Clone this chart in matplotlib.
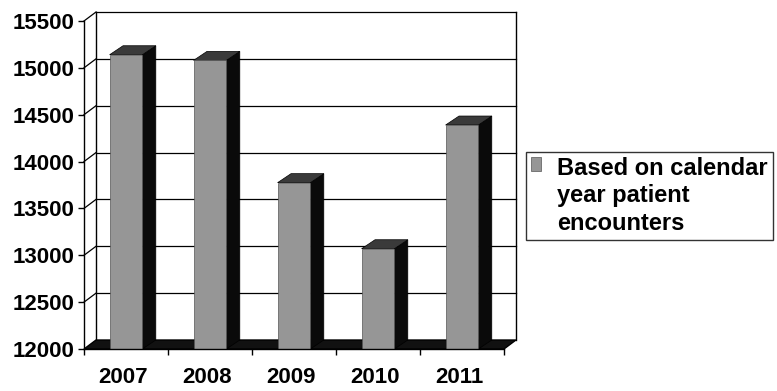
import matplotlib
matplotlib.use("Agg")
import matplotlib.pyplot as plt
import matplotlib.transforms as mtransforms
from matplotlib.patches import Polygon
import numpy as np

plt.rcParams['font.family'] = ['Liberation Sans', 'DejaVu Sans']
plt.rcParams['font.weight'] = 'bold'

years = ['2007', '2008', '2009', '2010', '2011']
encounters = [15140, 15080, 13775, 13070, 14390]
yticks = [12000, 12500, 13000, 13500, 14000, 14500, 15000, 15500]
series_label = 'Based on calendar\nyear patient\nencounters'

ymin, ymax = 12000, 15500
bar_w = 0.39
# oblique depth offset (category units, value units)
dx, dy = 0.143, 96
bdx = 0.16

fig = plt.figure(figsize=(7.77, 3.91), dpi=100)
ax = fig.add_axes([0.1081, 0.1074, 0.5405, 0.8389])
ax.set_xlim(-0.5, len(years) - 0.5)
ax.set_ylim(ymin, ymax)

x = np.arange(len(years))
x0, x1 = -0.5, len(years) - 0.5

# back wall gridlines + slants on the left wall
for v in yticks[1:]:
    ax.plot([x0 + dx, x1 + dx], [v + dy, v + dy], color='black', lw=0.9, clip_on=False, zorder=1)
    ax.plot([x0, x0 + dx], [v, v + dy], color='black', lw=0.9, clip_on=False, zorder=1)
# wall edges
ax.plot([x0 + dx, x0 + dx], [ymin + dy, ymax + dy], color='black', lw=1, clip_on=False, zorder=1)
ax.plot([x1 + dx, x1 + dx], [ymin + dy, ymax + dy], color='black', lw=1, clip_on=False, zorder=1)

# floor
floor = Polygon([[x0, ymin], [x1, ymin], [x1 + dx, ymin + dy], [x0 + dx, ymin + dy]],
                closed=True, facecolor='#111111', edgecolor='black', lw=1, clip_on=False, zorder=2)
ax.add_patch(floor)

# bars: side, top, front
for xi, v in zip(x, encounters):
    l, r = xi - bar_w / 2, xi + bar_w / 2
    side = Polygon([[r, ymin], [r + bdx, ymin + dy], [r + bdx, v + dy], [r, v]],
                   closed=True, facecolor='#0a0a0a', edgecolor='black', lw=0.5, clip_on=False, zorder=3)
    top = Polygon([[l, v], [r, v], [r + bdx, v + dy], [l + bdx, v + dy]],
                  closed=True, facecolor='#3a3a3a', edgecolor='black', lw=0.5, clip_on=False, zorder=3)
    ax.add_patch(side)
    ax.add_patch(top)

bars = ax.bar(x, [v - ymin for v in encounters], bottom=ymin, width=bar_w,
              color='#969696', edgecolor='#555555', lw=0.5, zorder=4, label=series_label)

for s in ['top', 'right']:
    ax.spines[s].set_visible(False)
ax.spines['left'].set_linewidth(1)
ax.spines['bottom'].set_linewidth(1)
ax.spines['bottom'].set_zorder(5)

ax.set_yticks(yticks)
ax.set_yticklabels([str(t) for t in yticks], fontsize=16, fontweight='bold')
ax.tick_params(axis='y', length=4, width=1, pad=3)
ax.set_xticks(x)
ax.set_xticklabels(years, fontsize=16, fontweight='bold')
ax.tick_params(axis='x', which='major', length=0, pad=13)
ax.set_xticks(np.arange(len(years) + 1) - 0.5, minor=True)
ax.tick_params(axis='x', which='minor', length=4, width=1)
shift = mtransforms.ScaledTranslation(-3 / 100, 0, fig.dpi_scale_trans)
for lab in ax.get_xticklabels():
    lab.set_transform(lab.get_transform() + shift)

leg = ax.legend(loc='upper left', bbox_to_anchor=(0.677, 0.611), bbox_transform=fig.transFigure,
                fontsize=17, frameon=True, fancybox=False, handlelength=0.42, handleheight=0.55,
                handletextpad=0.7, borderpad=0.2, borderaxespad=0)
leg.get_frame().set_edgecolor('black')
leg.get_frame().set_linewidth(1)
for t in leg.get_texts():
    t.set_fontweight('bold')
    t.set_linespacing(1.25)
# put the legend key beside the first line of the label
for col in leg._legend_handle_box.get_children():
    for item in col.get_children():
        item.align = 'top'

fig.savefig('out.png', dpi=100, facecolor='white')
